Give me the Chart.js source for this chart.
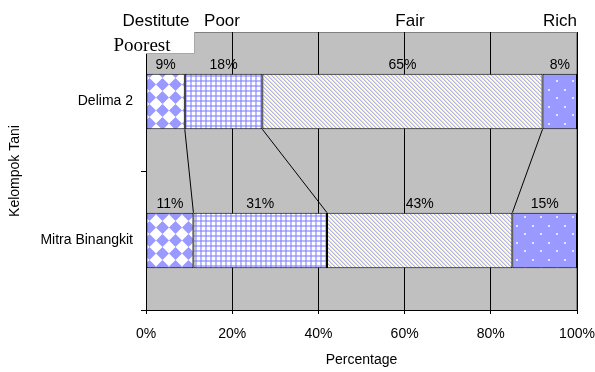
<!DOCTYPE html>
<html>
<head>
<meta charset="utf-8">
<script src="https://cdn.jsdelivr.net/npm/chart.js@4/dist/chart.umd.min.js"></script>
<style>
  html, body { margin: 0; padding: 0; background: #fff; }
  canvas { display: block; }
</style>
</head>
<body>
<canvas id="chart" width="595" height="372"></canvas>
<script>
// Farmer groups and their share of households per welfare class (%)
const groups = ['Delima 2', 'Mitra Binangkit'];
const classNames = ['Destitute', 'Poor', 'Fair', 'Rich'];
const destitute = [9, 11];
const poor = [18, 31];
const fair = [65, 43];
const rich = [8, 15];
const percentTicks = [0, 20, 40, 60, 80, 100];

const FONT = 'Arial, "Liberation Sans", sans-serif';
const BLUE = '#9999ff';

function tile(w, h, paint) {
  const c = document.createElement('canvas');
  c.width = w; c.height = h;
  const g = c.getContext('2d');
  paint(g, w, h);
  return g.createPattern(c, 'repeat');
}

// Diamond checker (destitute)
const diamondFill = tile(13, 13, (g, w, h) => {
  g.fillStyle = '#fff';
  g.fillRect(0, 0, w, h);
  g.fillStyle = BLUE;
  g.beginPath();
  g.moveTo(0, h / 2); g.lineTo(w / 2, 0); g.lineTo(w, h / 2); g.lineTo(w / 2, h);
  g.closePath();
  g.fill();
});

// Small plaid (poor)
const plaidFill = tile(5, 5, (g, w, h) => {
  g.fillStyle = '#fff';
  g.fillRect(0, 0, w, h);
  g.fillStyle = '#b8b8ff';
  g.fillRect(0, 0, 2, h);
  g.fillRect(0, 0, w, 2);
  g.fillStyle = BLUE;
  g.fillRect(0, 0, 2, 2);
});

// Fine diagonal stripes (fair)
const stripeShades = ['#b0b0ff', '#dcdcf0', '#ffffc4', '#ffffc4'];
const stripeFill = tile(4, 4, (g, w, h) => {
  for (let y = 0; y < h; y++) {
    for (let x = 0; x < w; x++) {
      g.fillStyle = stripeShades[(x - y + 8) % 4];
      g.fillRect(x, y, 1, 1);
    }
  }
});

// Sparse white dots on blue (rich)
const dotFill = tile(16, 17, (g, w, h) => {
  g.fillStyle = BLUE;
  g.fillRect(0, 0, w, h);
  g.fillStyle = '#e6e6ff';
  g.fillRect(4, 4, 2, 2);
  g.fillRect(12, 12, 2, 2);
});

const seriesData = [destitute, poor, fair, rich];
const fills = [diamondFill, plaidFill, stripeFill, dotFill];

// Plot background and frame
const plotFrame = {
  id: 'plotFrame',
  beforeDraw(chart) {
    const { ctx, chartArea: a } = chart;
    ctx.save();
    ctx.fillStyle = '#c0c0c0';
    ctx.fillRect(a.left, a.top, a.right - a.left, a.bottom - a.top);
    ctx.strokeStyle = '#808080';
    ctx.lineWidth = 1;
    ctx.beginPath();
    ctx.moveTo(a.left, a.top + 0.5);
    ctx.lineTo(a.right - 0.5, a.top + 0.5);
    ctx.lineTo(a.right - 0.5, a.bottom);
    ctx.stroke();
    ctx.restore();
  }
};

// Series lines joining segment boundaries, value labels, class captions
const annotations = {
  id: 'annotations',
  afterDatasetsDraw(chart) {
    const { ctx } = chart;
    const metas = chart.data.datasets.map((d, i) => chart.getDatasetMeta(i));
    ctx.save();
    // connector lines between the two bars
    ctx.strokeStyle = '#000';
    ctx.lineWidth = 1;
    for (let s = 0; s < metas.length - 1; s++) {
      const upper = metas[s].data[0];
      const lower = metas[s].data[1];
      ctx.beginPath();
      ctx.moveTo(upper.x, upper.y + upper.height / 2);
      ctx.lineTo(lower.x, lower.y - lower.height / 2);
      ctx.stroke();
    }
    // value labels above each segment
    ctx.fillStyle = '#000';
    ctx.font = '14px ' + FONT;
    ctx.textAlign = 'center';
    ctx.textBaseline = 'middle';
    metas.forEach((meta, s) => {
      meta.data.forEach((bar, i) => {
        const v = chart.data.datasets[s].data[i];
        ctx.fillText(v + '%', (bar.x + bar.base) / 2, bar.y - bar.height / 2 - 9);
      });
    });
    ctx.restore();
  },
  afterDraw(chart) {
    const { ctx, chartArea: a } = chart;
    ctx.save();
    // caption box in the upper-left corner
    ctx.fillStyle = '#fff';
    ctx.fillRect(96, 26, 98, 27);
    ctx.strokeStyle = '#a8a8a8';
    ctx.lineWidth = 1;
    ctx.beginPath();
    ctx.moveTo(a.left, 53.5);
    ctx.lineTo(194.5, 53.5);
    ctx.lineTo(194.5, a.top);
    ctx.stroke();
    ctx.fillStyle = '#000';
    ctx.font = '19px "Liberation Serif", "Times New Roman", serif';
    ctx.textAlign = 'center';
    ctx.textBaseline = 'alphabetic';
    ctx.fillText('Poorest', 142, 51);
    // class captions along the top
    ctx.font = '17px ' + FONT;
    const captionX = [156, 222, 410, 560];
    classNames.forEach((name, i) => ctx.fillText(name, captionX[i], 26));
    ctx.restore();
  }
};

new Chart(document.getElementById('chart'), {
  type: 'bar',
  data: {
    labels: groups,
    datasets: classNames.map((name, i) => ({
      label: name,
      data: seriesData[i],
      backgroundColor: fills[i],
      borderColor: '#000',
      borderWidth: 1,
      borderSkipped: false,
      categoryPercentage: 1,
      barPercentage: 0.4
    }))
  },
  options: {
    indexAxis: 'y',
    responsive: false,
    animation: false,
    devicePixelRatio: 1,
    layout: { padding: { top: 32, right: 18, left: 0, bottom: 0 } },
    plugins: {
      legend: { display: false },
      tooltip: { enabled: false }
    },
    scales: {
      x: {
        stacked: true,
        min: 0,
        max: 100,
        afterBuildTicks(scale) { scale.ticks = percentTicks.map(v => ({ value: v })); },
        afterFit(scale) {
          scale.height = 62;
          scale.paddingLeft = 0;
          scale.paddingRight = 0;
        },
        ticks: {
          callback: v => v + '%',
          color: '#000',
          font: { size: 14, family: FONT },
          padding: 12,
          maxRotation: 0
        },
        grid: {
          color: '#000',
          lineWidth: 1,
          drawTicks: true,
          tickLength: 4
        },
        border: { display: true, color: '#000', width: 1 },
        title: {
          display: true,
          text: 'Percentage',
          color: '#000',
          font: { size: 14, family: FONT },
          padding: { top: 4, bottom: 3 }
        }
      },
      y: {
        stacked: true,
        offset: true,
        afterFit(scale) { scale.width = 146; },
        ticks: {
          color: '#000',
          font: { size: 14, family: FONT },
          padding: 8
        },
        grid: {
          offset: true,
          drawOnChartArea: false,
          drawTicks: true,
          tickLength: 5,
          color: '#000'
        },
        border: { display: true, color: '#000', width: 1 },
        title: {
          display: true,
          text: 'Kelompok Tani',
          color: '#000',
          font: { size: 14, family: FONT },
          padding: { top: 7, bottom: 4 }
        }
      }
    }
  },
  plugins: [plotFrame, annotations]
});
</script>
</body>
</html>
